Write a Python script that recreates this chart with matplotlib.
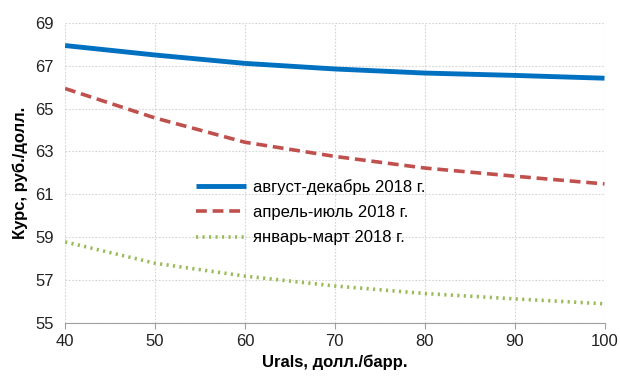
import matplotlib
matplotlib.use("Agg")
import matplotlib.pyplot as plt
from matplotlib import font_manager

urals = [40, 50, 60, 70, 80, 90, 100]
aug_dec = [67.93, 67.49, 67.10, 66.84, 66.65, 66.54, 66.41]
apr_jul = [65.93, 64.56, 63.43, 62.77, 62.23, 61.85, 61.49]
jan_mar = [58.79, 57.80, 57.20, 56.74, 56.39, 56.14, 55.91]
labels = ["август-декабрь 2018 г.", "апрель-июль 2018 г.", "январь-март 2018 г."]
yticks = [55, 57, 59, 61, 63, 65, 67, 69]
xticks = [40, 50, 60, 70, 80, 90, 100]

names = {f.name for f in font_manager.fontManager.ttflist}
narrow = "Liberation Sans Narrow" if "Liberation Sans Narrow" in names else "Liberation Sans"
plt.rcParams['font.family'] = ["Liberation Sans", "DejaVu Sans"]

fig = plt.figure(figsize=(6.2, 3.76), dpi=100)
ax = fig.add_axes([0.105, 0.14, 0.87, 0.80])

ax.plot(urals, aug_dec, color="#0070C0", lw=3.5, label=labels[0], solid_capstyle="butt")
ax.plot(urals, apr_jul, color="#C0504D", lw=2.6, ls=(0, (3, 1.6)), label=labels[1])
ax.plot(urals, jan_mar, color="#9BBB59", lw=2.6, ls=(0, (0.6, 1.2)), label=labels[2])

ax.set_xlim(40, 100)
ax.set_ylim(55, 69)
ax.set_xticks(xticks)
ax.set_yticks(yticks)
ax.grid(True, color="#d4d4d4", ls=(0, (1.5, 1.5)), lw=0.8)
ax.set_axisbelow(True)
for s in ["left", "right", "top"]:
    ax.spines[s].set_visible(False)
ax.spines["bottom"].set_color("#a0a0a0")
ax.tick_params(axis="y", length=0, labelsize=12, colors="#222222", pad=8)
ax.tick_params(axis="x", length=4, color="#a0a0a0", labelsize=12, labelcolor="#222222", pad=4)

ax.set_xlabel("Urals, долл./барр.", fontsize=12, fontweight="bold", labelpad=4)
ax.set_ylabel("Курс, руб./долл.", fontsize=12, fontweight="bold", labelpad=5)

leg = ax.legend(loc="upper left", bbox_to_anchor=(0.215, 0.53), frameon=False,
                handlelength=3.0, handletextpad=0.4, labelspacing=0.62,
                prop={"family": [narrow, "DejaVu Sans"], "size": 12})

fig.savefig("out.png", dpi=100)
